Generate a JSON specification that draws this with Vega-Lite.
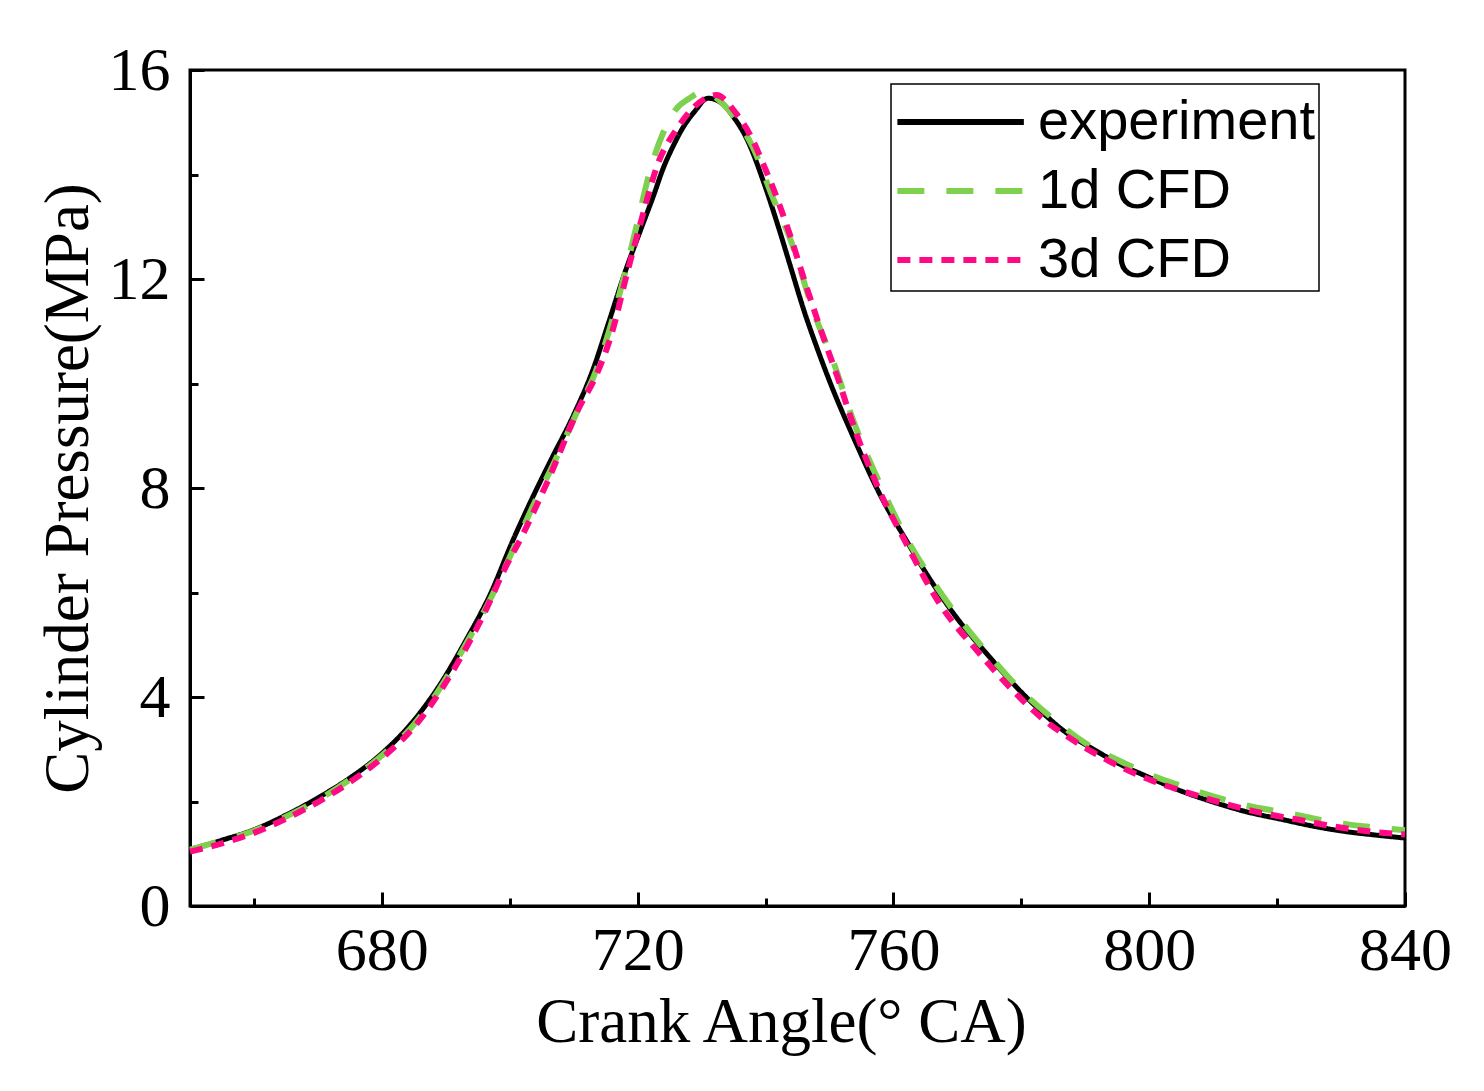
{
  "$schema": "https://vega.github.io/schema/vega-lite/v6.json",
  "description": "Cylinder pressure vs crank angle: experiment, 1d CFD and 3d CFD.",
  "width": 1215,
  "height": 836,
  "autosize": "none",
  "padding": {"left": 190, "top": 70, "right": 79, "bottom": 185},
  "background": "white",
  "config": {
    "view": {"stroke": "black", "strokeWidth": 3},
    "axis": {
      "grid": false,
      "domainColor": "black",
      "domainWidth": 3,
      "tickColor": "black",
      "tickWidth": 3,
      "labelFont": "Liberation Serif",
      "labelFontSize": 62,
      "labelColor": "black",
      "labelFlush": false,
      "titleFont": "Liberation Serif",
      "titleFontSize": 63,
      "titleFontWeight": "normal",
      "titleColor": "black"
    },
    "legend": {
      "orient": "none",
      "legendX": 701,
      "legendY": 14,
      "strokeColor": "black",
      "strokeWidth": 1.5,
      "padding": 3,
      "labelFont": "Liberation Sans",
      "labelFontSize": 56,
      "labelColor": "black",
      "labelLimit": 0,
      "symbolType": "M-1,0L3,0",
      "symbolSize": 4000,
      "symbolStrokeWidth": 6,
      "labelOffset": 74,
      "rowPadding": 6
    }
  },
  "data": {
    "values": [
      {"ca": 650, "p": 1.08, "s": "experiment"},
      {"ca": 655, "p": 1.26, "s": "experiment"},
      {"ca": 660, "p": 1.46, "s": "experiment"},
      {"ca": 665, "p": 1.74, "s": "experiment"},
      {"ca": 670, "p": 2.07, "s": "experiment"},
      {"ca": 675, "p": 2.45, "s": "experiment"},
      {"ca": 680, "p": 2.92, "s": "experiment"},
      {"ca": 685, "p": 3.55, "s": "experiment"},
      {"ca": 689, "p": 4.22, "s": "experiment"},
      {"ca": 693, "p": 5.05, "s": "experiment"},
      {"ca": 697, "p": 5.98, "s": "experiment"},
      {"ca": 700.5, "p": 7.0, "s": "experiment"},
      {"ca": 703.5, "p": 7.8, "s": "experiment"},
      {"ca": 706.5, "p": 8.55, "s": "experiment"},
      {"ca": 710, "p": 9.4, "s": "experiment"},
      {"ca": 713, "p": 10.26, "s": "experiment"},
      {"ca": 715.5, "p": 11.18, "s": "experiment"},
      {"ca": 718, "p": 12.12, "s": "experiment"},
      {"ca": 720.5, "p": 12.95, "s": "experiment"},
      {"ca": 722.5, "p": 13.6, "s": "experiment"},
      {"ca": 724, "p": 14.12, "s": "experiment"},
      {"ca": 725.5, "p": 14.53, "s": "experiment"},
      {"ca": 727, "p": 14.88, "s": "experiment"},
      {"ca": 729, "p": 15.22, "s": "experiment"},
      {"ca": 731, "p": 15.46, "s": "experiment"},
      {"ca": 733, "p": 15.38, "s": "experiment"},
      {"ca": 735, "p": 15.1, "s": "experiment"},
      {"ca": 737, "p": 14.7, "s": "experiment"},
      {"ca": 740, "p": 13.75, "s": "experiment"},
      {"ca": 742, "p": 13.0, "s": "experiment"},
      {"ca": 744, "p": 12.2, "s": "experiment"},
      {"ca": 746, "p": 11.4, "s": "experiment"},
      {"ca": 748, "p": 10.7, "s": "experiment"},
      {"ca": 750, "p": 10.05, "s": "experiment"},
      {"ca": 754, "p": 8.9, "s": "experiment"},
      {"ca": 758, "p": 7.85, "s": "experiment"},
      {"ca": 762, "p": 7.0, "s": "experiment"},
      {"ca": 766, "p": 6.2, "s": "experiment"},
      {"ca": 770, "p": 5.5, "s": "experiment"},
      {"ca": 774.5, "p": 4.84, "s": "experiment"},
      {"ca": 779, "p": 4.22, "s": "experiment"},
      {"ca": 783.5, "p": 3.68, "s": "experiment"},
      {"ca": 787, "p": 3.32, "s": "experiment"},
      {"ca": 791, "p": 3.02, "s": "experiment"},
      {"ca": 795, "p": 2.74, "s": "experiment"},
      {"ca": 800, "p": 2.46, "s": "experiment"},
      {"ca": 805, "p": 2.2, "s": "experiment"},
      {"ca": 810, "p": 1.99, "s": "experiment"},
      {"ca": 815, "p": 1.81, "s": "experiment"},
      {"ca": 821, "p": 1.65, "s": "experiment"},
      {"ca": 826, "p": 1.52, "s": "experiment"},
      {"ca": 831, "p": 1.42, "s": "experiment"},
      {"ca": 836, "p": 1.35, "s": "experiment"},
      {"ca": 840, "p": 1.3, "s": "experiment"},

      {"ca": 650, "p": 1.08, "s": "1d CFD"},
      {"ca": 655, "p": 1.25, "s": "1d CFD"},
      {"ca": 660, "p": 1.44, "s": "1d CFD"},
      {"ca": 665, "p": 1.71, "s": "1d CFD"},
      {"ca": 670, "p": 2.03, "s": "1d CFD"},
      {"ca": 675, "p": 2.42, "s": "1d CFD"},
      {"ca": 680, "p": 2.88, "s": "1d CFD"},
      {"ca": 685, "p": 3.47, "s": "1d CFD"},
      {"ca": 689, "p": 4.15, "s": "1d CFD"},
      {"ca": 693, "p": 4.98, "s": "1d CFD"},
      {"ca": 697, "p": 5.88, "s": "1d CFD"},
      {"ca": 701, "p": 6.95, "s": "1d CFD"},
      {"ca": 704, "p": 7.75, "s": "1d CFD"},
      {"ca": 707, "p": 8.5, "s": "1d CFD"},
      {"ca": 710.5, "p": 9.45, "s": "1d CFD"},
      {"ca": 713.5, "p": 10.25, "s": "1d CFD"},
      {"ca": 716, "p": 11.2, "s": "1d CFD"},
      {"ca": 718, "p": 12.1, "s": "1d CFD"},
      {"ca": 720, "p": 13.1, "s": "1d CFD"},
      {"ca": 722, "p": 14.1, "s": "1d CFD"},
      {"ca": 724, "p": 14.8, "s": "1d CFD"},
      {"ca": 726, "p": 15.25, "s": "1d CFD"},
      {"ca": 728, "p": 15.45, "s": "1d CFD"},
      {"ca": 730.2, "p": 15.58, "s": "1d CFD"},
      {"ca": 733.3, "p": 15.36, "s": "1d CFD"},
      {"ca": 736, "p": 14.95, "s": "1d CFD"},
      {"ca": 738, "p": 14.53, "s": "1d CFD"},
      {"ca": 741, "p": 13.6, "s": "1d CFD"},
      {"ca": 744.3, "p": 12.62, "s": "1d CFD"},
      {"ca": 747.4, "p": 11.41, "s": "1d CFD"},
      {"ca": 750.5, "p": 10.45, "s": "1d CFD"},
      {"ca": 754, "p": 9.2, "s": "1d CFD"},
      {"ca": 758, "p": 8.05, "s": "1d CFD"},
      {"ca": 762, "p": 7.05, "s": "1d CFD"},
      {"ca": 766, "p": 6.25, "s": "1d CFD"},
      {"ca": 770, "p": 5.55, "s": "1d CFD"},
      {"ca": 775, "p": 4.8, "s": "1d CFD"},
      {"ca": 780, "p": 4.12, "s": "1d CFD"},
      {"ca": 785, "p": 3.58, "s": "1d CFD"},
      {"ca": 790, "p": 3.12, "s": "1d CFD"},
      {"ca": 795, "p": 2.8, "s": "1d CFD"},
      {"ca": 800, "p": 2.52, "s": "1d CFD"},
      {"ca": 805, "p": 2.3, "s": "1d CFD"},
      {"ca": 810, "p": 2.1, "s": "1d CFD"},
      {"ca": 815, "p": 1.93, "s": "1d CFD"},
      {"ca": 822, "p": 1.77, "s": "1d CFD"},
      {"ca": 828, "p": 1.62, "s": "1d CFD"},
      {"ca": 834, "p": 1.52, "s": "1d CFD"},
      {"ca": 840, "p": 1.45, "s": "1d CFD"},

      {"ca": 650, "p": 1.04, "s": "3d CFD"},
      {"ca": 655, "p": 1.2, "s": "3d CFD"},
      {"ca": 660, "p": 1.4, "s": "3d CFD"},
      {"ca": 665, "p": 1.67, "s": "3d CFD"},
      {"ca": 670, "p": 1.99, "s": "3d CFD"},
      {"ca": 675, "p": 2.37, "s": "3d CFD"},
      {"ca": 680, "p": 2.83, "s": "3d CFD"},
      {"ca": 685, "p": 3.42, "s": "3d CFD"},
      {"ca": 689.6, "p": 4.2, "s": "3d CFD"},
      {"ca": 693, "p": 4.9, "s": "3d CFD"},
      {"ca": 696.4, "p": 5.7, "s": "3d CFD"},
      {"ca": 699, "p": 6.4, "s": "3d CFD"},
      {"ca": 702, "p": 7.1, "s": "3d CFD"},
      {"ca": 706, "p": 8.15, "s": "3d CFD"},
      {"ca": 710.9, "p": 9.55, "s": "3d CFD"},
      {"ca": 713.5, "p": 10.15, "s": "3d CFD"},
      {"ca": 716.1, "p": 11.02, "s": "3d CFD"},
      {"ca": 718.2, "p": 12.04, "s": "3d CFD"},
      {"ca": 720.3, "p": 13.0, "s": "3d CFD"},
      {"ca": 723.4, "p": 14.28, "s": "3d CFD"},
      {"ca": 726, "p": 14.85, "s": "3d CFD"},
      {"ca": 728.5, "p": 15.25, "s": "3d CFD"},
      {"ca": 730.5, "p": 15.45, "s": "3d CFD"},
      {"ca": 732.3, "p": 15.52, "s": "3d CFD"},
      {"ca": 735.4, "p": 15.17, "s": "3d CFD"},
      {"ca": 738, "p": 14.66, "s": "3d CFD"},
      {"ca": 739.6, "p": 14.21, "s": "3d CFD"},
      {"ca": 741.1, "p": 13.77, "s": "3d CFD"},
      {"ca": 743.75, "p": 12.87, "s": "3d CFD"},
      {"ca": 746.4, "p": 11.85, "s": "3d CFD"},
      {"ca": 749, "p": 10.9, "s": "3d CFD"},
      {"ca": 751.6, "p": 10.0, "s": "3d CFD"},
      {"ca": 753.1, "p": 9.43, "s": "3d CFD"},
      {"ca": 757.3, "p": 8.09, "s": "3d CFD"},
      {"ca": 762, "p": 6.94, "s": "3d CFD"},
      {"ca": 767.2, "p": 5.79, "s": "3d CFD"},
      {"ca": 773.4, "p": 4.84, "s": "3d CFD"},
      {"ca": 778.1, "p": 4.2, "s": "3d CFD"},
      {"ca": 783, "p": 3.62, "s": "3d CFD"},
      {"ca": 788, "p": 3.18, "s": "3d CFD"},
      {"ca": 793, "p": 2.82, "s": "3d CFD"},
      {"ca": 800, "p": 2.42, "s": "3d CFD"},
      {"ca": 806, "p": 2.17, "s": "3d CFD"},
      {"ca": 812, "p": 1.95, "s": "3d CFD"},
      {"ca": 818, "p": 1.77, "s": "3d CFD"},
      {"ca": 823.4, "p": 1.65, "s": "3d CFD"},
      {"ca": 829, "p": 1.52, "s": "3d CFD"},
      {"ca": 834.9, "p": 1.42, "s": "3d CFD"},
      {"ca": 840, "p": 1.37, "s": "3d CFD"}
    ]
  },
  "encoding": {
    "x": {
      "field": "ca",
      "type": "quantitative",
      "title": "Crank Angle(° CA)",
      "scale": {"domain": [650, 840], "nice": false, "zero": false},
      "axis": {
        "values": [660, 680, 700, 720, 740, 760, 780, 800, 820, 840],
        "labelExpr": "datum.value % 40 === 0 ? datum.label : ''",
        "tickSize": {"condition": {"test": "datum.value % 40 === 0", "value": -14}, "value": -8},
        "labelPadding": 28,
        "titlePadding": 10,
        "titleX": 591
      }
    },
    "y": {
      "field": "p",
      "type": "quantitative",
      "title": "Cylinder Pressure(MPa)",
      "scale": {"domain": [0, 16], "nice": false},
      "axis": {
        "values": [0, 2, 4, 6, 8, 10, 12, 14, 16],
        "labelExpr": "datum.value % 4 === 0 ? datum.label : ''",
        "tickSize": {"condition": {"test": "datum.value % 4 === 0", "value": -14}, "value": -8},
        "labelPadding": 34,
        "titlePadding": 8
      }
    },
    "color": {
      "field": "s",
      "type": "nominal",
      "title": null,
      "scale": {"domain": ["experiment", "1d CFD", "3d CFD"], "range": ["#000000", "#7ED14F", "#FF0A84"]}
    },
    "strokeDash": {
      "field": "s",
      "type": "nominal",
      "title": null,
      "scale": {"domain": ["experiment", "1d CFD", "3d CFD"], "range": [[1, 0], [27, 22], [13, 9]]}
    }
  },
  "layer": [
    {
      "transform": [{"filter": "datum.s === 'experiment'"}],
      "mark": {"type": "line", "interpolate": "monotone", "strokeWidth": 5}
    },
    {
      "transform": [{"filter": "datum.s === '1d CFD'"}],
      "mark": {"type": "line", "interpolate": "monotone", "strokeWidth": 6}
    },
    {
      "transform": [{"filter": "datum.s === '3d CFD'"}],
      "mark": {"type": "line", "interpolate": "monotone", "strokeWidth": 6}
    }
  ]
}
